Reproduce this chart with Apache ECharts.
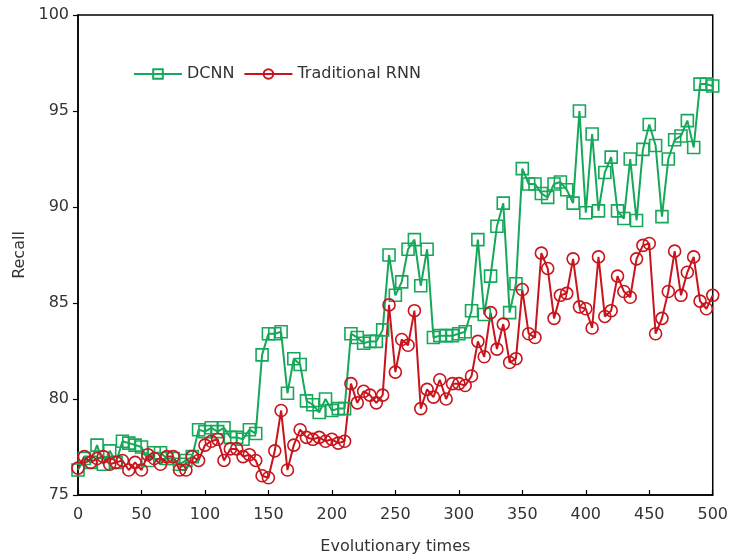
<!DOCTYPE html>
<html style="height: 100%">
<head>
    <meta charset="utf-8" />
    <title>Recall</title>
    <script type="text/javascript" src="https://cdn.jsdelivr.net/npm/echarts@6/dist/echarts.min.js"></script>
</head>
<body style="height: 100%; margin: 0; background: #fff">
<div id="chart" style="width: 731px; height: 560px"></div>
<script type="text/javascript">
      // evolutionary times 0..500, one point every 5
      var times = [];
      for (var t = 0; t <= 500; t += 5) times.push(t);

      var dcnn = [
        76.3, 76.9, 76.7, 77.6, 76.6, 77.3, 76.7, 77.8, 77.7, 77.6,
        77.5, 76.8, 77.2, 77.2, 76.9, 76.9, 76.6, 76.8, 77.0, 78.4,
        78.3, 78.5, 78.3, 78.5, 78.0, 78.0, 77.9, 78.4, 78.2, 82.3,
        83.4, 83.4, 83.5, 80.3, 82.1, 81.8, 79.9, 79.7, 79.3, 80.0,
        79.4, 79.5, 79.5, 83.4, 83.2, 82.9, 83.0, 83.0, 83.6, 87.5,
        85.4, 86.1, 87.8, 88.3, 85.9, 87.8, 83.2, 83.3, 83.3, 83.3,
        83.4, 83.5, 84.6, 88.3, 84.4, 86.4, 89.0, 90.2, 84.5, 86.0,
        92.0, 91.2, 91.2, 90.7, 90.5, 91.2, 91.3, 90.9, 90.2, 95.0,
        89.7, 93.8, 89.8, 91.8, 92.6, 89.8, 89.4, 92.5, 89.3, 93.0,
        94.3, 93.2, 89.5, 92.5, 93.5, 93.7, 94.5, 93.1, 96.4, 96.4,
        96.3
      ];
      var rnn = [
        76.4, 77.0, 76.7, 76.9, 77.0, 76.6, 76.7, 76.8, 76.3, 76.7,
        76.3, 77.1, 76.9, 76.6, 77.0, 77.0, 76.3, 76.3, 77.0, 76.8,
        77.6, 77.8, 77.9, 76.8, 77.4, 77.4, 77.0, 77.1, 76.8, 76.0,
        75.9, 77.3, 79.4, 76.3, 77.6, 78.4, 78.0, 77.9, 78.0, 77.8,
        77.9, 77.7, 77.8, 80.8, 79.8, 80.4, 80.2, 79.8, 80.2, 84.9,
        81.4, 83.1, 82.8, 84.6, 79.5, 80.5, 80.1, 81.0, 80.0, 80.8,
        80.8, 80.7, 81.2, 83.0, 82.2, 84.5, 82.6, 83.9, 81.9, 82.1,
        85.7, 83.4, 83.2, 87.6, 86.8, 84.2, 85.4, 85.5, 87.3, 84.8,
        84.7, 83.7, 87.4, 84.3, 84.6, 86.4, 85.6, 85.3, 87.3, 88.0,
        88.1, 83.4, 84.2, 85.6, 87.7, 85.4, 86.6, 87.4, 85.1, 84.7,
        85.4
      ];

      var green = "#16a85a";
      var red = "#c8141c";

      function pairs(vals) {
        return times.map(function (t, i) { return [t, vals[i]]; });
      }

      var myChart = echarts.init(document.getElementById("chart"));
      var txt = { color: "#333", fontSize: 16, fontFamily: "DejaVu Sans" };
      var option = {
        animation: false,
        backgroundColor: "#fff",
        grid: {
          left: 78, right: 18, top: 15, bottom: 64,
          show: true, borderColor: "#000", borderWidth: 1.5
        },
        legend: {
          left: 128, top: 61,
          itemWidth: 48, itemHeight: 12, itemGap: 9,
          textStyle: txt,
          data: ["DCNN", "Traditional RNN"]
        },
        xAxis: {
          type: "value", min: 0, max: 500, interval: 50,
          name: "Evolutionary times", nameLocation: "middle", nameGap: 44,
          nameTextStyle: txt,
          axisLine: { lineStyle: { color: "#000", width: 1.5 } },
          axisTick: { inside: true, length: 5, lineStyle: { color: "#000", width: 1.2 } },
          axisLabel: Object.assign({ margin: 12 }, txt),
          splitLine: { show: false }
        },
        yAxis: {
          type: "value", min: 75, max: 100, interval: 5,
          name: "Recall", nameLocation: "middle", nameGap: 50,
          nameTextStyle: txt,
          axisLine: { show: true, lineStyle: { color: "#000", width: 1.5 } },
          axisTick: { show: true, length: 5, lineStyle: { color: "#000", width: 1.2 } },
          axisLabel: Object.assign({ margin: 9 }, txt),
          splitLine: { show: false }
        },
        series: [
          {
            name: "DCNN", type: "line", data: pairs(dcnn),
            symbol: "rect", symbolSize: 12, showAllSymbol: true,
            lineStyle: { color: green, width: 2 },
            itemStyle: { color: "rgba(255,255,255,0)", borderColor: green, borderWidth: 1.6 }
          },
          {
            name: "Traditional RNN", type: "line", data: pairs(rnn),
            symbol: "circle", symbolSize: 12, showAllSymbol: true,
            lineStyle: { color: red, width: 2 },
            itemStyle: { color: "rgba(255,255,255,0)", borderColor: red, borderWidth: 1.6 }
          }
        ]
      };
      myChart.setOption(option);
    </script>
</body>
</html>
